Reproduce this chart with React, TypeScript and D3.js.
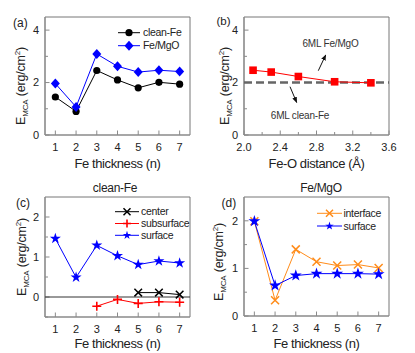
import React from "react";
import * as d3 from "d3";

const thickness = [1, 2, 3, 4, 5, 6, 7];
const aCleanFe = [1.45, 0.9, 2.46, 2.1, 1.8, 2.01, 1.94];
const aFeMgO = [1.96, 1.07, 3.09, 2.62, 2.4, 2.47, 2.42];

const bDistance = [2.1, 2.3, 2.6, 3.0, 3.4];
const bFeMgO = [2.47, 2.4, 2.23, 2.03, 1.99];
const bCleanFe = 2.0;

const cCenterX = [5, 6, 7];
const cCenter = [0.11, 0.11, 0.06];
const cSubX = [3, 4, 5, 6, 7];
const cSub = [-0.23, -0.06, -0.16, -0.12, -0.13];
const cSurface = [1.46, 0.49, 1.29, 1.03, 0.81, 0.9, 0.85];

const dInterface = [1.99, 0.33, 1.4, 1.14, 1.06, 1.08, 1.01];
const dSurface = [1.99, 0.64, 0.85, 0.89, 0.89, 0.89, 0.88];

const xTicksN = [1, 2, 3, 4, 5, 6, 7];
const bXTicks = [2.0, 2.4, 2.8, 3.2, 3.6];

const FONT = "'Liberation Sans', Arial, sans-serif";
const AX = "#8a8a8a";
const BLUE = "#0000ff";
const RED = "#ff0000";
const ORANGE = "#ff8c1a";
const TXT = "#222";

type Sc = d3.ScaleLinear<number, number>;

function Frame({ x, y }: { x: Sc; y: Sc }) {
  const [x0, x1] = x.range();
  const [y1, y0] = y.range();
  return (
    <g fill="none">
      <line x1={x0} x2={x1} y1={y0} y2={y0} stroke="#777" strokeWidth={1} />
      <line x1={x1} x2={x1} y1={y0} y2={y1} stroke="#777" strokeWidth={1} />
      <line x1={x0} x2={x0} y1={y0} y2={y1} stroke={AX} strokeWidth={1.6} />
      <line x1={x0} x2={x1} y1={y1} y2={y1} stroke={AX} strokeWidth={1.6} />
    </g>
  );
}

function YAxis({ y, x, major, minor, fmt }: { y: Sc; x: Sc; major: number[]; minor: number[]; fmt: (v: number) => string }) {
  const x0 = x.range()[0];
  return (
    <g>
      {minor.map((v) => (
        <line key={"m" + v} x1={x0} x2={x0 + 3} y1={y(v)} y2={y(v)} stroke={AX} strokeWidth={1} />
      ))}
      {major.map((v) => (
        <g key={v}>
          <line x1={x0} x2={x0 + 4.5} y1={y(v)} y2={y(v)} stroke={AX} strokeWidth={1} />
          <text x={x0 - 6} y={y(v)} dy="0.35em" textAnchor="end" fontSize={11} fill={TXT}>
            {fmt(v)}
          </text>
        </g>
      ))}
    </g>
  );
}

function XAxis({ y, x, major, minor, fmt }: { y: Sc; x: Sc; major: number[]; minor: number[]; fmt: (v: number) => string }) {
  const y1 = y.range()[0];
  return (
    <g>
      {minor.map((v) => (
        <line key={"m" + v} x1={x(v)} x2={x(v)} y1={y1} y2={y1 - 3} stroke={AX} strokeWidth={1} />
      ))}
      {major.map((v) => (
        <g key={v}>
          <line x1={x(v)} x2={x(v)} y1={y1} y2={y1 - 4.5} stroke={AX} strokeWidth={1} />
          <text x={x(v)} y={y1 + 15.5} textAnchor="middle" fontSize={11} fill={TXT}>
            {fmt(v)}
          </text>
        </g>
      ))}
    </g>
  );
}

function YLabel({ cx, cy }: { cx: number; cy: number }) {
  return (
    <text transform={`translate(${cx},${cy}) rotate(-90)`} textAnchor="middle" dy="0.35em" fontSize={12.5} letterSpacing={-0.2} fill={TXT}>
      E<tspan fontSize={8} dy={3}>MCA</tspan>
      <tspan dy={-3}> (erg/cm</tspan>
      <tspan fontSize={8} dy={-5}>2</tspan>
      <tspan dy={5}>)</tspan>
    </text>
  );
}

function Circle({ cx, cy, color }: { cx: number; cy: number; color: string }) {
  return <circle cx={cx} cy={cy} r={3.6} fill={color} />;
}
function Diamond({ cx, cy, color }: { cx: number; cy: number; color: string }) {
  return <path d={`M${cx},${cy - 5}L${cx + 4.5},${cy}L${cx},${cy + 5}L${cx - 4.5},${cy}Z`} fill={color} />;
}
function Square({ cx, cy, color }: { cx: number; cy: number; color: string }) {
  return <rect x={cx - 3.8} y={cy - 3.8} width={7.6} height={7.6} fill={color} />;
}
const starPath = (s: number) => d3.symbol(d3.symbolStar, s)() as string;
function Star({ cx, cy, color, size }: { cx: number; cy: number; color: string; size: number }) {
  return <path transform={`translate(${cx},${cy})`} d={starPath(size)} fill={color} />;
}
function Cross({ cx, cy, color, r }: { cx: number; cy: number; color: string; r: number }) {
  return (
    <path d={`M${cx - r},${cy - r}L${cx + r},${cy + r}M${cx - r},${cy + r}L${cx + r},${cy - r}`} stroke={color} strokeWidth={1.5} fill="none" />
  );
}
function Plus({ cx, cy, color, r }: { cx: number; cy: number; color: string; r: number }) {
  return <path d={`M${cx - r},${cy}L${cx + r},${cy}M${cx},${cy - r}L${cx},${cy + r}`} stroke={color} strokeWidth={1.6} fill="none" />;
}

export default function App() {
  const line = (xs: Sc, ys: Sc) => d3.line<[number, number]>().x((d) => xs(d[0])).y((d) => ys(d[1]));
  const zip = (a: number[], b: number[]) => a.map((v, i) => [v, b[i]] as [number, number]);

  const xa = d3.scaleLinear().domain([0.5, 7.5]).range([45, 190]);
  const ya = d3.scaleLinear().domain([0, 4.5]).range([135, 17]);
  const xb = d3.scaleLinear().domain([2.0, 3.6]).range([244, 389]);
  const yb = d3.scaleLinear().domain([0, 4.5]).range([135, 17]);
  const xc = d3.scaleLinear().domain([0.5, 7.5]).range([45, 190]);
  const yc = d3.scaleLinear().domain([-0.5, 2.5]).range([317, 197]);
  const xd = d3.scaleLinear().domain([0.5, 7.5]).range([244, 389]);
  const yd = d3.scaleLinear().domain([0, 2.5]).range([316, 197]);

  const fmtInt = (v: number) => d3.format("d")(v);
  const fmt1 = (v: number) => d3.format(".1f")(v);
  const legendFont = { fontSize: 10.5, letterSpacing: -0.3, fill: TXT } as const;
  const titleFont = { fontSize: 13, letterSpacing: -0.4, fill: TXT } as const;

  return (
    <svg width={415} height={353} style={{ position: "absolute", left: 0, top: 0, background: "#fff" }} fontFamily={FONT}>
      {/* Panel a */}
      <Frame x={xa} y={ya} />
      <YAxis x={xa} y={ya} major={[0, 2, 4]} minor={[1, 3]} fmt={fmtInt} />
      <XAxis x={xa} y={ya} major={xTicksN} minor={[]} fmt={fmtInt} />
      <path d={line(xa, ya)(zip(thickness, aCleanFe)) as string} stroke="#000" strokeWidth={1} fill="none" />
      <path d={line(xa, ya)(zip(thickness, aFeMgO)) as string} stroke={BLUE} strokeWidth={1} fill="none" />
      {thickness.map((t, i) => (
        <Circle key={"ac" + t} cx={xa(t)} cy={ya(aCleanFe[i])} color="#000" />
      ))}
      {thickness.map((t, i) => (
        <Diamond key={"af" + t} cx={xa(t)} cy={ya(aFeMgO[i])} color={BLUE} />
      ))}
      <line x1={118} x2={140} y1={32.7} y2={32.7} stroke="#000" />
      <Circle cx={129} cy={32.7} color="#000" />
      <text x={143} y={32.7} dy="0.35em" {...legendFont}>clean-Fe</text>
      <line x1={118} x2={140} y1={45.7} y2={45.7} stroke={BLUE} />
      <Diamond cx={129} cy={45.7} color={BLUE} />
      <text x={143} y={45.7} dy="0.35em" {...legendFont}>Fe/MgO</text>
      <text x={13} y={26.5} fontSize={12} fill={TXT}>(a)</text>
      <YLabel cx={21} cy={86} />
      <text x={(45 + 190) / 2} y={167.5} textAnchor="middle" {...titleFont}>Fe thickness (n)</text>

      {/* Panel b */}
      <Frame x={xb} y={yb} />
      <YAxis x={xb} y={yb} major={[0, 2, 4]} minor={[1, 3]} fmt={fmtInt} />
      <XAxis x={xb} y={yb} major={bXTicks} minor={[2.2, 2.6, 3.0, 3.4]} fmt={fmt1} />
      <line x1={xb(2.0)} x2={xb(3.6)} y1={yb(bCleanFe)} y2={yb(bCleanFe)} stroke="#666" strokeWidth={2.5} strokeDasharray="8,4" />
      <path d={line(xb, yb)(zip(bDistance, bFeMgO)) as string} stroke={RED} strokeWidth={1} fill="none" />
      {bDistance.map((t, i) => (
        <Square key={"b" + t} cx={xb(t)} cy={yb(bFeMgO[i])} color={RED} />
      ))}
      <text x={330.5} y={43.3} dy="0.35em" textAnchor="middle" fontSize={10} letterSpacing={-0.2} fill="#333">6ML Fe/MgO</text>
      <text x={300} y={115} dy="0.35em" textAnchor="middle" fontSize={10} letterSpacing={-0.2} fill="#333">6ML clean-Fe</text>
      <defs>
        <marker id="arr" viewBox="0 0 10 10" refX={9} refY={5} markerWidth={6} markerHeight={6} orient="auto">
          <path d="M0,1L10,5L0,9Z" fill="#111" />
        </marker>
      </defs>
      <line x1={318.3} y1={70.7} x2={325.7} y2={55} stroke="#111" strokeWidth={1} markerEnd="url(#arr)" />
      <line x1={290} y1={86.7} x2={296.7} y2={102.5} stroke="#111" strokeWidth={1} markerEnd="url(#arr)" />
      <text x={216.5} y={24.5} fontSize={11.5} fill={TXT}>(b)</text>
      <YLabel cx={225} cy={86} />
      <text x={(244 + 389) / 2} y={167.5} textAnchor="middle" {...titleFont}>Fe-O distance (Å)</text>

      {/* Panel c */}
      <Frame x={xc} y={yc} />
      <YAxis x={xc} y={yc} major={[0, 1, 2]} minor={[-0.5, 0.5, 1.5]} fmt={fmtInt} />
      <XAxis x={xc} y={yc} major={xTicksN} minor={[]} fmt={fmtInt} />
      <line x1={45} x2={190} y1={yc(0)} y2={yc(0)} stroke="#333" strokeWidth={1} />
      <path d={line(xc, yc)(zip(cCenterX, cCenter)) as string} stroke="#000" strokeWidth={1} fill="none" />
      <path d={line(xc, yc)(zip(cSubX, cSub)) as string} stroke={RED} strokeWidth={1} fill="none" />
      <path d={line(xc, yc)(zip(thickness, cSurface)) as string} stroke={BLUE} strokeWidth={1} fill="none" />
      {cCenterX.map((t, i) => (
        <Cross key={"cc" + t} cx={xc(t)} cy={yc(cCenter[i])} color="#000" r={3.8} />
      ))}
      {cSubX.map((t, i) => (
        <Plus key={"cs" + t} cx={xc(t)} cy={yc(cSub[i])} color={RED} r={4.5} />
      ))}
      {thickness.map((t, i) => (
        <Star key={"cu" + t} cx={xc(t)} cy={yc(cSurface[i])} color={BLUE} size={38} />
      ))}
      <line x1={115} x2={139} y1={211.7} y2={211.7} stroke="#000" />
      <Cross cx={127} cy={211.7} color="#000" r={3.5} />
      <text x={141} y={211.7} dy="0.35em" {...legendFont}>center</text>
      <line x1={115} x2={139} y1={223.5} y2={223.5} stroke={RED} />
      <Plus cx={127} cy={223.5} color={RED} r={4} />
      <text x={141} y={223.5} dy="0.35em" {...legendFont}>subsurface</text>
      <line x1={115} x2={139} y1={235.3} y2={235.3} stroke={BLUE} />
      <Star cx={127} cy={235.3} color={BLUE} size={22} />
      <text x={141} y={235.3} dy="0.35em" {...legendFont}>surface</text>
      <text x={16} y={206.5} fontSize={12} fill={TXT}>(c)</text>
      <text x={115} y={191.5} textAnchor="middle" fontSize={12} letterSpacing={-0.3} fill={TXT}>clean-Fe</text>
      <YLabel cx={21.5} cy={257} />
      <text x={(45 + 190) / 2} y={348} textAnchor="middle" {...titleFont}>Fe thickness (n)</text>

      {/* Panel d */}
      <Frame x={xd} y={yd} />
      <YAxis x={xd} y={yd} major={[0, 1, 2]} minor={[0.5, 1.5]} fmt={fmtInt} />
      <XAxis x={xd} y={yd} major={xTicksN} minor={[]} fmt={fmtInt} />
      <path d={line(xd, yd)(zip(thickness, dInterface)) as string} stroke={ORANGE} strokeWidth={1} fill="none" />
      <path d={line(xd, yd)(zip(thickness, dSurface)) as string} stroke={BLUE} strokeWidth={1} fill="none" />
      {thickness.map((t, i) => (
        <Cross key={"di" + t} cx={xd(t)} cy={yd(dInterface[i])} color={ORANGE} r={4} />
      ))}
      {thickness.map((t, i) => (
        <Star key={"ds" + t} cx={xd(t)} cy={yd(dSurface[i])} color={BLUE} size={44} />
      ))}
      <line x1={317} x2={342} y1={213.3} y2={213.3} stroke={ORANGE} />
      <Cross cx={329.5} cy={213.3} color={ORANGE} r={3.5} />
      <text x={343.5} y={213.3} dy="0.35em" {...legendFont}>interface</text>
      <line x1={317} x2={342} y1={226} y2={226} stroke={BLUE} />
      <Star cx={329.5} cy={226} color={BLUE} size={22} />
      <text x={343.5} y={226} dy="0.35em" {...legendFont}>surface</text>
      <text x={221.5} y={206.5} fontSize={12} fill={TXT}>(d)</text>
      <text x={321} y={191.5} textAnchor="middle" fontSize={12} letterSpacing={-0.3} fill={TXT}>Fe/MgO</text>
      <YLabel cx={219} cy={262} />
      <text x={(244 + 389) / 2} y={348} textAnchor="middle" {...titleFont}>Fe thickness (n)</text>
    </svg>
  );
}
